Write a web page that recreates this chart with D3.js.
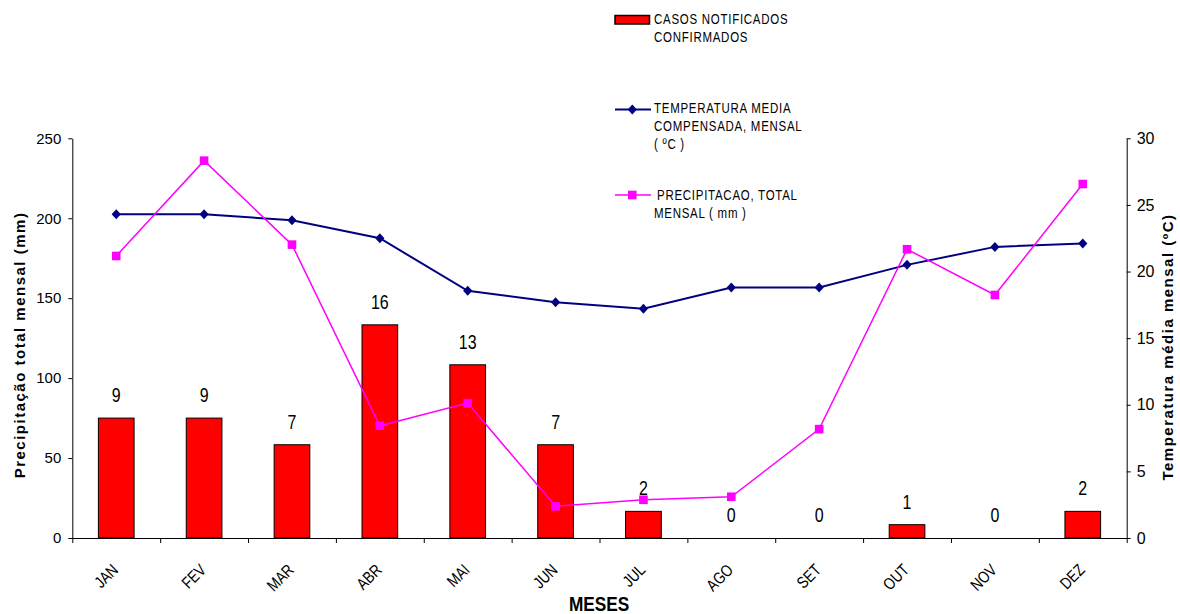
<!DOCTYPE html>
<html>
<head>
<meta charset="utf-8">
<script src="https://cdn.jsdelivr.net/npm/d3@7"></script>
<style>
  html, body { margin: 0; padding: 0; background: #fff; }
  svg { display: block; }
  text { font-family: "Liberation Sans", Arial, sans-serif; fill: #000; }
</style>
</head>
<body>
<svg id="chart" width="1180" height="614"></svg>
<script>
const months = ["JAN","FEV","MAR","ABR","MAI","JUN","JUL","AGO","SET","OUT","NOV","DEZ"];
const cases = [9, 9, 7, 16, 13, 7, 2, 0, 0, 1, 0, 2];
const temperature = [24.3, 24.3, 23.85, 22.5, 18.55, 17.7, 17.2, 18.8, 18.8, 20.5, 21.85, 22.1];
const precipitation = [176.4, 236.0, 183.5, 70.2, 84.4, 19.8, 23.9, 25.8, 68.1, 180.6, 152.0, 221.4];
const leftTicks = [0, 50, 100, 150, 200, 250];
const rightTicks = [0, 5, 10, 15, 20, 25, 30];

const svg = d3.select("#chart");
const L = 72.3, R = 1126.7, T = 138.3, B = 538;
const NARROW = 0.82;

const x = d3.scaleBand().domain(months).range([L, R]).padding(0);
const xb = d3.scaleLinear().domain([0, months.length]).range([L, R]);
const yL = d3.scaleLinear().domain([0, 250]).range([B, T]);
const yR = d3.scaleLinear().domain([0, 30]).range([B, T]);
const cx = m => x(m) + x.bandwidth() / 2;
const barW = x.bandwidth() * 0.406;

// Bars (cases, on right axis)
svg.append("g").selectAll("rect").data(months).join("rect")
  .attr("x", (m) => cx(m) - barW / 2)
  .attr("y", (m, i) => yR(cases[i]))
  .attr("width", barW)
  .attr("height", (m, i) => B - yR(cases[i]))
  .attr("fill", "#ff0000")
  .attr("stroke", "#000")
  .attr("stroke-width", 1);

// Bar labels
svg.append("g").selectAll("text").data(months).join("text")
  .attr("transform", (m, i) => `translate(${cx(m)},${yR(cases[i]) - 16}) scale(${NARROW},1)`)
  .attr("text-anchor", "middle")
  .style("font-size", "19.5px")
  .text((m, i) => cases[i]);

// Temperature line (right axis)
const tLine = d3.line().x((d, i) => cx(months[i])).y(d => yR(d));
svg.append("path").datum(temperature)
  .attr("d", tLine).attr("fill", "none").attr("stroke", "#000080").attr("stroke-width", 2);
const diamond = (px, py) => `M${px},${py-5}L${px+4.6},${py}L${px},${py+5}L${px-4.6},${py}Z`;
svg.append("g").selectAll("path").data(temperature).join("path")
  .attr("d", (d, i) => diamond(cx(months[i]), yR(d)))
  .attr("fill", "#000080");

// Precipitation line (left axis)
const pLine = d3.line().x((d, i) => cx(months[i])).y(d => yL(d));
svg.append("path").datum(precipitation)
  .attr("d", pLine).attr("fill", "none").attr("stroke", "#ff00ff").attr("stroke-width", 1.5);
svg.append("g").selectAll("rect").data(precipitation).join("rect")
  .attr("x", (d, i) => cx(months[i]) - 4.3)
  .attr("y", d => yL(d) - 4.3)
  .attr("width", 8.6).attr("height", 8.6)
  .attr("fill", "#ff00ff");

// Axes
const axL = svg.append("g").attr("transform", `translate(${L},0)`)
  .call(d3.axisLeft(yL).tickValues(leftTicks).tickSize(4).tickSizeOuter(0).tickPadding(7));
axL.selectAll("text").style("font-size", "15px").style("font-family", "'Liberation Sans', Arial, sans-serif");

const axR = svg.append("g").attr("transform", `translate(${R},0)`)
  .call(d3.axisRight(yR).tickValues(rightTicks).tickSize(4).tickSizeOuter(0).tickPadding(6));
axR.selectAll("text").style("font-size", "16px").style("font-family", "'Liberation Sans', Arial, sans-serif");

svg.append("g").attr("transform", `translate(0,${B})`)
  .call(d3.axisBottom(xb).tickValues(d3.range(0, months.length + 1)).tickSize(5).tickSizeOuter(0).tickFormat(""));

svg.selectAll(".domain, .tick line").attr("stroke", "#000").attr("stroke-width", 1);

// X labels rotated
svg.append("g").selectAll("text").data(months).join("text")
  .attr("text-anchor", "end")
  .attr("transform", m => `translate(${cx(m) + 3},${571}) rotate(-45) scale(${NARROW},1)`)
  .style("font-size", "16.5px")
  .text(m => m);

// Axis titles
svg.append("text")
  .attr("transform", `translate(599,610.5) scale(${NARROW},1)`).attr("text-anchor", "middle")
  .style("font-size", "21px").style("font-weight", "bold").text("MESES");

svg.append("text")
  .attr("transform", `translate(25,345) rotate(-90)`)
  .attr("text-anchor", "middle")
  .style("font-size", "15px").style("font-weight", "bold").style("letter-spacing", "1.5px")
  .text("Precipitação total mensal (mm)");

svg.append("text")
  .attr("transform", `translate(1173,347) rotate(-90)`)
  .attr("text-anchor", "middle")
  .style("font-size", "15px").style("font-weight", "bold").style("letter-spacing", "1.5px")
  .text("Temperatura média mensal (ºC)");

// Legend
const lg = svg.append("g");
const legendText = (xs, lines, y0) => {
  lines.forEach((s, i) => {
    const xx = xs[i] !== undefined ? xs[i] : xs[0];
    lg.append("text")
      .attr("transform", `translate(${xx},${y0 + i * 18}) scale(${NARROW},1)`)
      .style("font-size", "14px").style("letter-spacing", "0.9px").text(s);
  });
};
lg.append("rect").attr("x", 615).attr("y", 15.5).attr("width", 34.5).attr("height", 8.5)
  .attr("fill", "#ff0000").attr("stroke", "#000").attr("stroke-width", 1.5);
legendText([654], ["CASOS NOTIFICADOS", "CONFIRMADOS"], 24);

lg.append("line").attr("x1", 615).attr("x2", 651).attr("y1", 109.5).attr("y2", 109.5)
  .attr("stroke", "#000080").attr("stroke-width", 2);
lg.append("path").attr("d", diamond(632.3, 109.5)).attr("fill", "#000080");
legendText([654], ["TEMPERATURA MEDIA", "COMPENSADA, MENSAL", "( ºC )"], 113);

lg.append("line").attr("x1", 615).attr("x2", 651).attr("y1", 195).attr("y2", 195)
  .attr("stroke", "#ff00ff").attr("stroke-width", 1.5);
lg.append("rect").attr("x", 632.3 - 4.3).attr("y", 195 - 4.3).attr("width", 8.6).attr("height", 8.6).attr("fill", "#ff00ff");
legendText([657, 654], ["PRECIPITACAO, TOTAL", "MENSAL ( mm )"], 199.5);
</script>
</body>
</html>
